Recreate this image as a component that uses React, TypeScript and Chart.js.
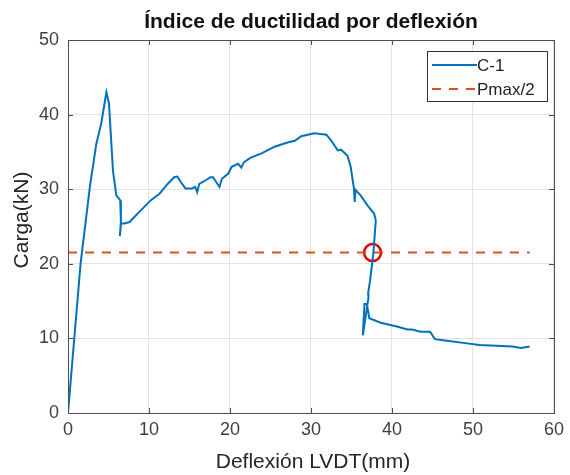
import React, { useEffect, useRef } from "react";
import { Chart, registerables } from "chart.js";

Chart.register(...registerables);

const deflexion = [0, 1.55, 2.7, 3.5, 4.1, 4.74, 5.06, 5.55, 5.96, 6.45, 6.53, 6.4, 6.55, 6.98, 7.6, 8.4, 9.2, 10.2, 11.3, 12.3, 13.1, 13.5, 13.9, 14.5, 15.3, 15.7, 15.95, 16.2, 17.0, 17.6, 17.9, 18.4, 18.7, 19.0, 19.8, 20.2, 21.0, 21.4, 21.7, 22.5, 23.9, 25.5, 27.2, 28.0, 28.8, 30.4, 31.9, 32.5, 33.3, 33.7, 34.5, 34.9, 35.3, 35.4, 35.5, 36.1, 37.0, 37.8, 38.0, 37.7, 37.3, 37.05, 37.1, 36.4, 36.6, 36.9, 37.2, 38.6, 40.6, 41.9, 42.5, 43.5, 44.7, 45.3, 46.8, 48.8, 50.8, 52.9, 54.9, 55.9, 57.0];
const carga = [0, 20.0, 30.3, 36.1, 38.8, 43.0, 41.5, 32.5, 29.2, 28.5, 25.6, 23.7, 25.4, 25.4, 25.6, 26.5, 27.4, 28.5, 29.4, 30.7, 31.6, 31.7, 31.0, 30.1, 30.1, 30.3, 29.6, 30.7, 31.2, 31.6, 31.6, 30.8, 30.3, 31.4, 32.1, 33.0, 33.4, 32.9, 33.6, 34.2, 34.8, 35.7, 36.3, 36.5, 37.1, 37.5, 37.3, 36.5, 35.2, 35.3, 34.5, 33.0, 30.1, 28.3, 29.9, 29.2, 27.8, 26.7, 25.8, 21.4, 17.8, 16.0, 15.5, 10.4, 14.6, 14.6, 12.7, 12.1, 11.6, 11.2, 11.2, 10.9, 10.9, 9.9, 9.7, 9.4, 9.1, 9.0, 8.9, 8.7, 8.9];
const pmaxHalfX = [0, 57.0];
const pmaxHalfY = [21.5, 21.5];
const marcaX = [37.6];
const marcaY = [21.5];
const xTicks = [0, 10, 20, 30, 40, 50, 60];
const yTicks = [0, 10, 20, 30, 40, 50];

const titleText = "Índice de ductilidad por deflexión";
const xTitle = "Deflexión LVDT(mm)";
const yTitle = "Carga(kN)";
const FONT = "'Liberation Sans', Arial, sans-serif";

const overlay = {
  id: "overlay",
  afterDraw(chart: any) {
    const { ctx, chartArea: a } = chart;
    const xs = chart.scales.x;
    const ys = chart.scales.y;
    ctx.save();
    // box border
    ctx.strokeStyle = "#4d4d4d";
    ctx.lineWidth = 1;
    ctx.strokeRect(a.left + 0.5, a.top + 0.5, a.right - a.left, a.bottom - a.top);
    // inward ticks
    ctx.beginPath();
    xTicks.forEach((t) => {
      const p = Math.round(xs.getPixelForValue(t)) + 0.5;
      ctx.moveTo(p, a.bottom); ctx.lineTo(p, a.bottom - 5);
      ctx.moveTo(p, a.top); ctx.lineTo(p, a.top + 5);
    });
    yTicks.forEach((t) => {
      const p = Math.round(ys.getPixelForValue(t)) + 0.5;
      ctx.moveTo(a.left, p); ctx.lineTo(a.left + 5, p);
      ctx.moveTo(a.right, p); ctx.lineTo(a.right - 5, p);
    });
    ctx.stroke();
    // title
    ctx.fillStyle = "#111";
    ctx.font = `bold 21px ${FONT}`;
    ctx.textAlign = "center";
    ctx.textBaseline = "alphabetic";
    ctx.fillText(titleText, (a.left + a.right) / 2, 28);
    // axis titles
    ctx.fillStyle = "#262626";
    ctx.font = `21px ${FONT}`;
    ctx.textBaseline = "middle";
    ctx.fillText(xTitle, (a.left + a.right) / 2 + 2, 462);
    ctx.save();
    ctx.translate(22, 220);
    ctx.rotate(-Math.PI / 2);
    ctx.fillText(yTitle, 0, 0);
    ctx.restore();
    // legend
    const lx = 427, ly = 51, lw = 120, lh = 50;
    ctx.fillStyle = "#fff";
    ctx.fillRect(lx, ly, lw, lh);
    ctx.strokeStyle = "#333";
    ctx.lineWidth = 1;
    ctx.strokeRect(lx + 0.5, ly + 0.5, lw, lh);
    const ds = chart.data.datasets;
    const rows = [ds[0], ds[1]];
    rows.forEach((d: any, i: number) => {
      const yy = ly + 14 + i * 24;
      ctx.beginPath();
      ctx.strokeStyle = d.borderColor;
      ctx.lineWidth = 2;
      ctx.setLineDash(d.borderDash || []);
      ctx.moveTo(lx + 5, yy);
      ctx.lineTo(lx + 50, yy);
      ctx.stroke();
      ctx.setLineDash([]);
      ctx.fillStyle = "#222";
      ctx.font = `17px ${FONT}`;
      ctx.textAlign = "left";
      ctx.fillText(d.label, lx + 50, yy + 1);
    });
    ctx.restore();
  },
};

export default function App() {
  const ref = useRef<HTMLCanvasElement | null>(null);
  useEffect(() => {
    if (!ref.current) return;
    const chart = new Chart(ref.current, {
      type: "line",
      data: {
        datasets: [
          {
            label: "C-1",
            data: deflexion.map((x, i) => ({ x, y: carga[i] })),
            borderColor: "#0072BD",
            borderWidth: 2,
            pointRadius: 0,
            tension: 0,
          },
          {
            label: "Pmax/2",
            data: pmaxHalfX.map((x, i) => ({ x, y: pmaxHalfY[i] })),
            borderColor: "#D95319",
            borderWidth: 2,
            borderDash: [9, 8],
            pointRadius: 0,
          },
          {
            label: "punto",
            type: "scatter",
            data: marcaX.map((x, i) => ({ x, y: marcaY[i] })),
            borderColor: "#e60000",
            backgroundColor: "rgba(0,0,0,0)",
            borderWidth: 2.5,
            pointRadius: 8.5,
            showLine: false,
          } as any,
        ],
      },
      options: {
        animation: false,
        responsive: false,
        layout: { padding: { top: 40, right: 13, left: 0, bottom: 0 } },
        plugins: { legend: { display: false }, title: { display: false }, tooltip: { enabled: false } },
        scales: {
          x: {
            type: "linear",
            min: 0,
            max: 60,
            afterBuildTicks: (s: any) => { s.ticks = xTicks.map((v) => ({ value: v })); },
            afterFit: (s: any) => { s.height = 62; },
            grid: { color: "#e3e3e3", drawTicks: false },
            border: { display: false },
            ticks: { color: "#404040", font: { family: FONT, size: 18 }, padding: 6 },
          },
          y: {
            type: "linear",
            min: 0,
            max: 50,
            afterBuildTicks: (s: any) => { s.ticks = yTicks.map((v) => ({ value: v })); },
            afterFit: (s: any) => { s.width = 68; },
            grid: { color: "#e3e3e3", drawTicks: false },
            border: { display: false },
            ticks: { color: "#404040", font: { family: FONT, size: 18 }, padding: 9 },
          },
        },
      },
      plugins: [overlay],
    });
    return () => chart.destroy();
  }, []);
  return (
    <div style={{ position: "fixed", left: 0, top: 0, width: 570, height: 475, background: "#fff" }}>
      <canvas ref={ref} width={570} height={475} />
    </div>
  );
}
